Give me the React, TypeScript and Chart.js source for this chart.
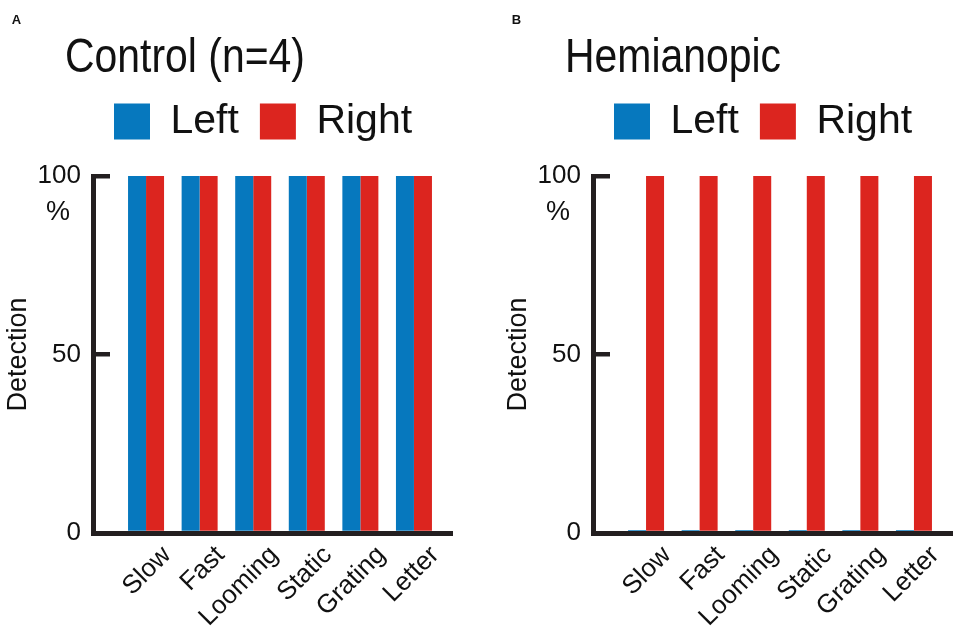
import { useEffect, useRef } from 'react';
import { Chart, registerables } from 'chart.js';
Chart.register(...registerables);

const CATEGORIES = ['Slow', 'Fast', 'Looming', 'Static', 'Grating', 'Letter'];
const SERIES = ['Left', 'Right'];
const CONTROL_LEFT = [100, 100, 100, 100, 100, 100];
const CONTROL_RIGHT = [100, 100, 100, 100, 100, 100];
const HEMI_LEFT = [0, 0, 0, 0, 0, 0];
const HEMI_RIGHT = [100, 100, 100, 100, 100, 100];
const Y_TICKS = [0, 50, 100];

const BLUE = '#0678be';
const RED = '#dc251f';
const INK = '#231f20';
const SANS = "'Liberation Sans', Arial, sans-serif";

// push the plot down a bit below the legend row
const legendGap = {
  id: 'legendGap',
  beforeInit(chart: any) {
    const legend = chart.legend;
    const fit = legend.fit;
    legend.fit = function () {
      fit.call(this);
      this.height += 24;
    };
  }
};

// the "%" printed under the 100 tick
const percentSign = {
  id: 'percentSign',
  afterDraw(chart: any) {
    const y = chart.scales.y;
    const ctx = chart.ctx;
    ctx.save();
    ctx.font = `27px ${SANS}`;
    ctx.fillStyle = '#111';
    ctx.textAlign = 'center';
    ctx.textBaseline = 'alphabetic';
    ctx.fillText('%', y.right - 35, y.getPixelForValue(100) + 44);
    ctx.restore();
  }
};

interface PanelProps {
  letter: string;
  title: string;
  left: number[];
  right: number[];
  x: number;
}

function Panel({ letter, title, left, right, x }: PanelProps) {
  const canvasRef = useRef<HTMLCanvasElement>(null);
  const chartRef = useRef<Chart | null>(null);

  useEffect(() => {
    if (!canvasRef.current) return;
    if (chartRef.current) chartRef.current.destroy();

    const tickFont = { family: SANS, size: 26 };

    chartRef.current = new Chart(canvasRef.current, {
      type: 'bar',
      data: {
        datasets: [
          {
            label: SERIES[0],
            data: CATEGORIES.map((_, i) => ({ x: i, y: left[i] })),
            backgroundColor: BLUE
          },
          {
            label: SERIES[1],
            data: CATEGORIES.map((_, i) => ({ x: i, y: right[i] })),
            backgroundColor: RED
          }
        ]
      },
      options: {
        animation: false,
        responsive: true,
        maintainAspectRatio: false,
        layout: { padding: { top: 80, right: 5, bottom: 0, left: 0 } },
        datasets: {
          bar: {
            categoryPercentage: 0.672,
            barPercentage: 1,
            borderWidth: 0,
            minBarLength: 3
          }
        },
        plugins: {
          tooltip: { enabled: false },
          legend: {
            position: 'top',
            align: 'start',
            fullSize: false,
            labels: {
              boxWidth: 36,
              boxHeight: 36,
              padding: 21,
              color: '#111',
              font: { family: SANS, size: 41 }
            }
          }
        },
        scales: {
          x: {
            type: 'linear',
            offset: false,
            min: -0.99,
            max: 5.71,
            afterBuildTicks: (s: any) => {
              s.ticks = CATEGORIES.map((_, i) => ({ value: i }));
            },
            afterFit: (s: any) => {
              s.height = 97;
            },
            grid: { display: false, drawTicks: false },
            border: { display: true, width: 5, color: INK },
            ticks: {
              autoSkip: false,
              minRotation: 45,
              maxRotation: 45,
              labelOffset: 21,
              padding: 7,
              color: '#111',
              font: tickFont,
              callback: (v: any) => CATEGORIES[v] ?? ''
            }
          },
          y: {
            min: 0,
            max: 100,
            afterBuildTicks: (s: any) => {
              s.ticks = Y_TICKS.map(v => ({ value: v }));
            },
            afterFit: (s: any) => {
              s.width = 93;
            },
            grid: { drawOnChartArea: false, tickLength: -17, lineWidth: 4.5, color: INK },
            border: { width: 5, color: INK },
            ticks: { padding: 29, color: '#111', font: tickFont },
            title: {
              display: true,
              text: 'Detection',
              padding: 2,
              color: '#111',
              font: { family: SANS, size: 27 }
            }
          }
        }
      },
      plugins: [legendGap, percentSign]
    });

    return () => {
      if (chartRef.current) {
        chartRef.current.destroy();
        chartRef.current = null;
      }
    };
  }, [left, right]);

  return (
    <div style={{ position: 'absolute', left: x, top: 0, width: 457, height: 630 }}>
      <canvas ref={canvasRef} />
      <div style={{ position: 'absolute', left: 11.7, top: 13.3, font: `bold 13px ${SANS}`, lineHeight: 1, color: '#111' }}>
        {letter}
      </div>
      <div
        style={{
          position: 'absolute',
          left: 64.5,
          top: 30.6,
          font: `49px ${SANS}`,
          lineHeight: 1,
          color: '#111',
          whiteSpace: 'nowrap',
          transform: 'scaleX(0.835)',
          transformOrigin: 'left top'
        }}
      >
        {title}
      </div>
    </div>
  );
}

export default function App() {
  return (
    <div style={{ position: 'fixed', left: 0, top: 0, width: 957, height: 630, background: '#fff' }}>
      <Panel letter="A" title="Control (n=4)" left={CONTROL_LEFT} right={CONTROL_RIGHT} x={0} />
      <Panel letter="B" title="Hemianopic" left={HEMI_LEFT} right={HEMI_RIGHT} x={500} />
    </div>
  );
}
